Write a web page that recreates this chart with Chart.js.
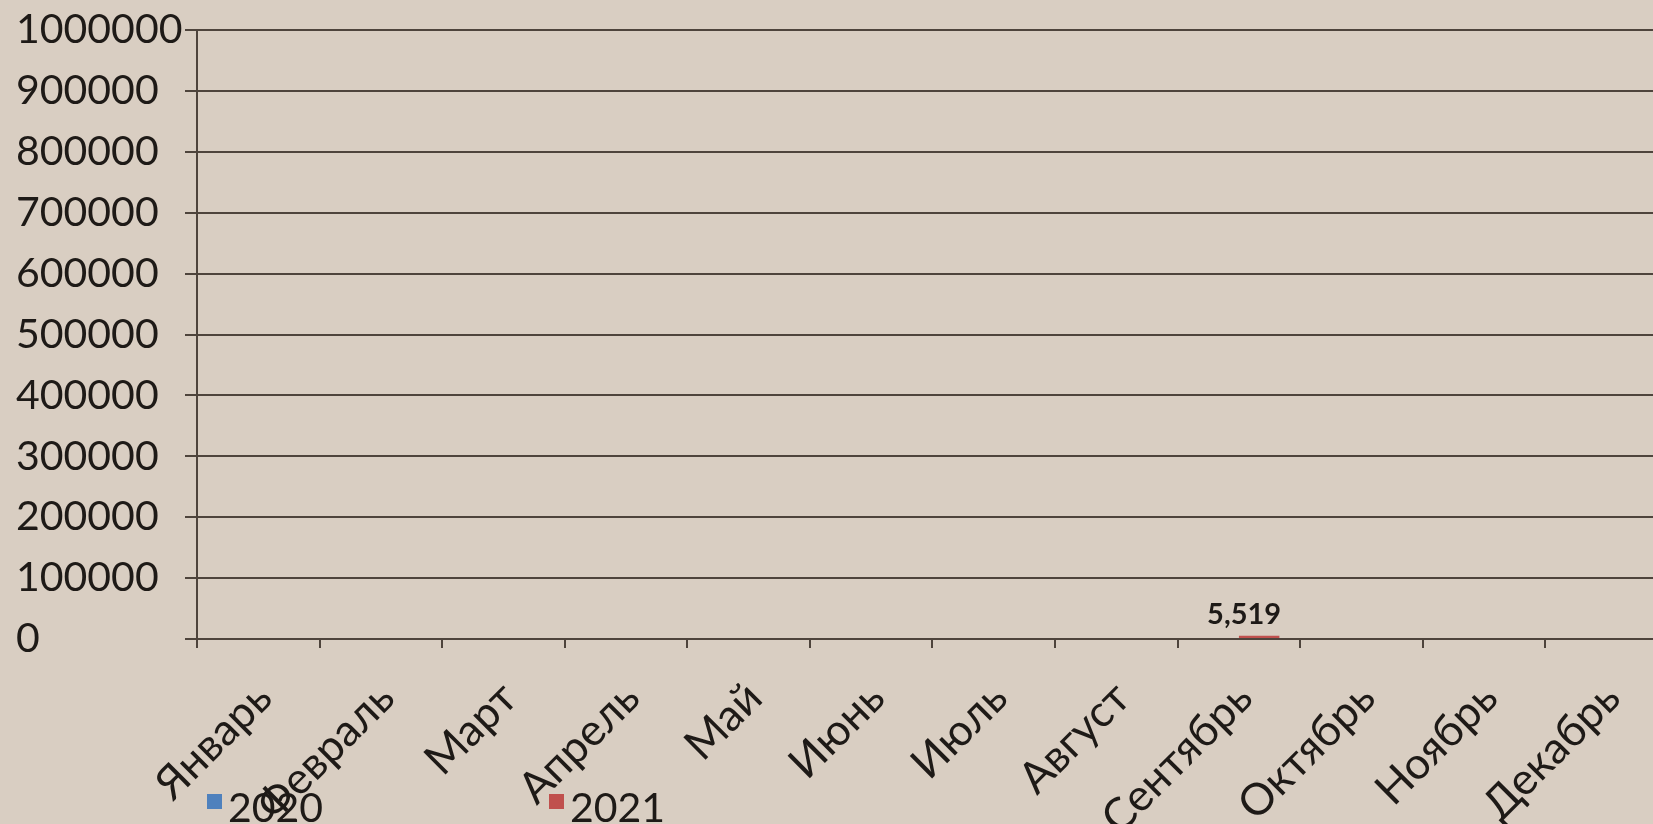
<!DOCTYPE html>
<html>
<head>
<meta charset="utf-8">
<script src="https://cdn.jsdelivr.net/npm/chart.js"></script>
<style>
html, body { margin: 0; padding: 0; overflow: hidden; background: #d9cec2; }
canvas { display: block; }
</style>
</head>
<body>
<canvas id="myChart" width="1668" height="824"></canvas>
<script>
const months = ['Январь', 'Февраль', 'Март', 'Апрель', 'Май', 'Июнь',
                'Июль', 'Август', 'Сентябрь', 'Октябрь', 'Ноябрь', 'Декабрь'];
const seriesNames = ['2020', '2021'];
const values2020 = [null, null, null, null, null, null, null, null, null, null, null, null];
const values2021 = [null, null, null, null, null, null, null, null, 5519, null, null, null];
const yMax = 1000000;
const yStep = 100000;

const ink = '#1e1a17';
const lineCol = '#4e443c';

// value labels above bars ("5,519")
const barLabels = {
  id: 'barLabels',
  afterDatasetsDraw(chart) {
    const ctx = chart.ctx;
    chart.data.datasets.forEach((ds, i) => {
      chart.getDatasetMeta(i).data.forEach((bar, j) => {
        const v = ds.data[j];
        if (v === null || v === undefined) return;
        ctx.save();
        ctx.font = 'bold 29px Lato';
        ctx.fillStyle = ink;
        ctx.textAlign = 'center';
        ctx.textBaseline = 'bottom';
        ctx.fillText(v.toLocaleString('en-US'), bar.x - 15, bar.y - 6);
        ctx.restore();
      });
    });
  }
};

// excel style legend, sits over the rotated month labels
const bottomLegend = {
  id: 'bottomLegend',
  afterDraw(chart) {
    const ctx = chart.ctx;
    const xs = [207, 549];
    chart.data.datasets.forEach((ds, i) => {
      ctx.save();
      ctx.fillStyle = ds.backgroundColor;
      ctx.fillRect(xs[i], 794, 15, 15);
      ctx.fillStyle = ink;
      ctx.font = '41px Lato';
      ctx.textBaseline = 'alphabetic';
      ctx.fillText(ds.label, xs[i] + 21, 822);
      ctx.restore();
    });
  }
};

const ctx = document.getElementById('myChart');
const myChart1 = new Chart(ctx, {
  type: 'bar',
  data: {
    labels: months,
    datasets: [{
      label: seriesNames[0],
      data: values2020,
      backgroundColor: '#4f81bd'
    }, {
      label: seriesNames[1],
      data: values2021,
      backgroundColor: '#c0504d'
    }]
  },
  options: {
    responsive: false,
    animation: false,
    categoryPercentage: 0.66,
    barPercentage: 1.0,
    layout: { padding: { left: 16, top: 30, right: 0, bottom: 0 } },
    scales: {
      y: {
        min: 0,
        max: yMax,
        ticks: {
          stepSize: yStep,
          crossAlign: 'far',
          padding: 0,
          color: ink,
          font: { family: 'Lato', size: 41 },
          callback: (v) => String(v)
        },
        grid: { color: lineCol, lineWidth: 2, tickLength: 12 },
        border: { display: true, color: lineCol, width: 2 },
        afterFit: (s) => { s.width = 181; }
      },
      x: {
        ticks: {
          autoSkip: false,
          maxRotation: 45,
          minRotation: 45,
          padding: 24,
          labelOffset: 6,
          color: ink,
          font: { family: 'Lato', size: 44 }
        },
        grid: { drawOnChartArea: false, color: lineCol, lineWidth: 2, tickLength: 9 },
        border: { display: true, color: lineCol, width: 2 },
        afterFit: (s) => { s.height = 185; }
      }
    },
    plugins: {
      legend: { display: false },
      tooltip: { enabled: false }
    }
  },
  plugins: [barLabels, bottomLegend]
});
</script>
</body>
</html>
